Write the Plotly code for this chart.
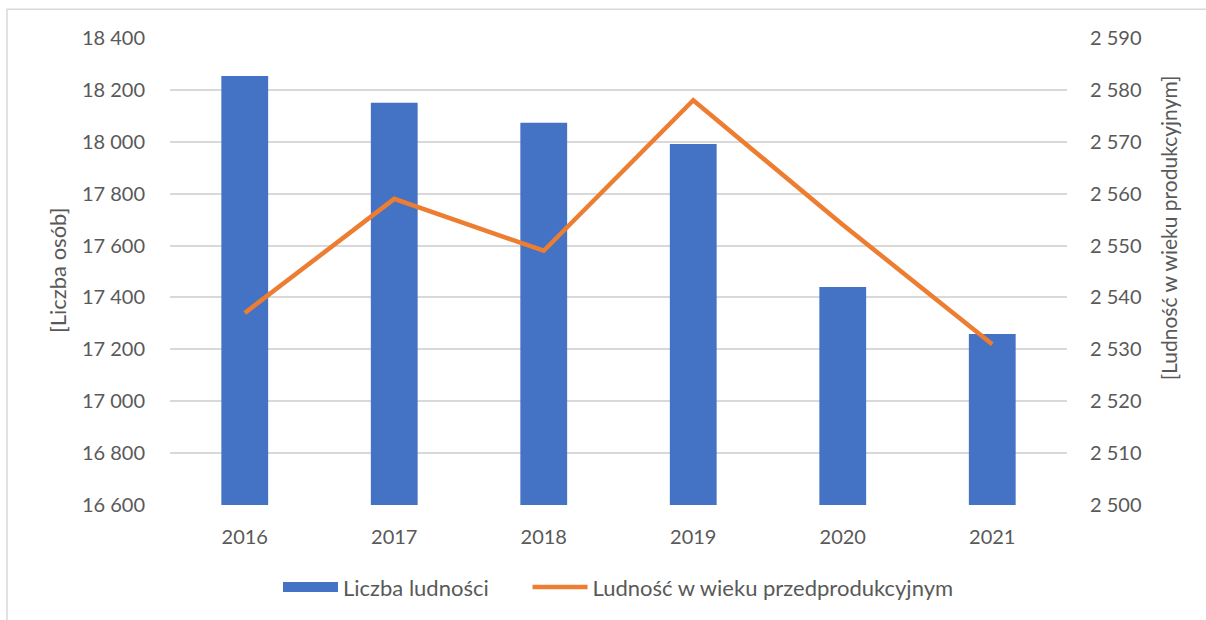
import plotly.graph_objects as go

years = ["2016", "2017", "2018", "2019", "2020", "2021"]
liczba_ludnosci = [18254, 18150, 18073, 17991, 17440, 17259]
przedprodukcyjny = [2537, 2559, 2549, 2578, 2554, 2531]

left_ticks = list(range(16600, 18401, 200))
right_ticks = list(range(2500, 2591, 10))

W, H = 1206, 620
L, R, T, B = 170, 139, 38, 111
pw, ph = W - L - R, H - T - B

def px(x):
    return (x - L) / pw

def py(y):
    return (H - B - y) / ph

FONT = "Lato"
TXT = "#595959"
GRID = "#D9D9D9"
BLUE = "#4472C4"
ORANGE = "#ED7D31"
NB = "\u00a0"

fig = go.Figure()
fig.add_trace(go.Bar(
    x=years, y=liczba_ludnosci, name="Liczba ludności",
    marker=dict(color=BLUE, line=dict(width=0)), yaxis="y", showlegend=False,
))
# legend-only entry imitating the wide bar swatch
fig.add_trace(go.Scatter(
    x=[None], y=[None], name="Liczba ludności" + NB * 6, mode="lines",
    line=dict(color=BLUE, width=13), yaxis="y", hoverinfo="skip",
))
fig.add_trace(go.Scatter(
    x=years, y=przedprodukcyjny, name="Ludność w wieku przedprodukcyjnym",
    mode="lines", line=dict(color=ORANGE, width=4.5), yaxis="y2",
))

fig.update_layout(
    width=W, height=H,
    margin=dict(l=L, r=R, t=T, b=B),
    paper_bgcolor="white", plot_bgcolor="white",
    separators=". ",
    font=dict(family=FONT, size=21, color=TXT),
    bargap=0.687,
    showlegend=True,
    legend=dict(orientation="h", x=0.5, xanchor="center", y=py(592), yanchor="middle",
                font=dict(family=FONT, size=22, color=TXT), itemwidth=55),
    xaxis=dict(showgrid=False, showline=False, ticks="", tickfont=dict(size=20),
               ticklabelstandoff=18),
    yaxis=dict(range=[16600, 18400], tickvals=left_ticks, tickformat=",d",
               showgrid=True, gridcolor=GRID, gridwidth=1.5, zeroline=False,
               showline=False, ticks="", ticklabelstandoff=24, tickfont=dict(size=20)),
    yaxis2=dict(range=[2500, 2590], tickvals=right_ticks, tickformat=",d",
                overlaying="y", side="right", showgrid=False, zeroline=False,
                showline=False, ticks="", ticklabelstandoff=22, tickfont=dict(size=20)),
    annotations=[
        dict(text="[Liczba osób]", xref="paper", yref="paper", x=px(57), y=py(272),
             showarrow=False, textangle=-90, xanchor="center", yanchor="middle",
             font=dict(family=FONT, size=22, color=TXT)),
        dict(text="[Ludność w wieku produkcyjnym]", xref="paper", yref="paper",
             x=px(1168), y=py(230), showarrow=False, textangle=-90,
             xanchor="center", yanchor="middle",
             font=dict(family=FONT, size=21, color=TXT)),
    ],
    shapes=[
        dict(type="rect", xref="paper", yref="paper", x0=px(7), y0=py(630),
             x1=px(1216), y1=py(9), line=dict(color=GRID, width=1.5), layer="below"),
    ],
)

fig.write_html("out.html", config={"displayModeBar": False},
               post_script="document.body.style.margin='0';")
